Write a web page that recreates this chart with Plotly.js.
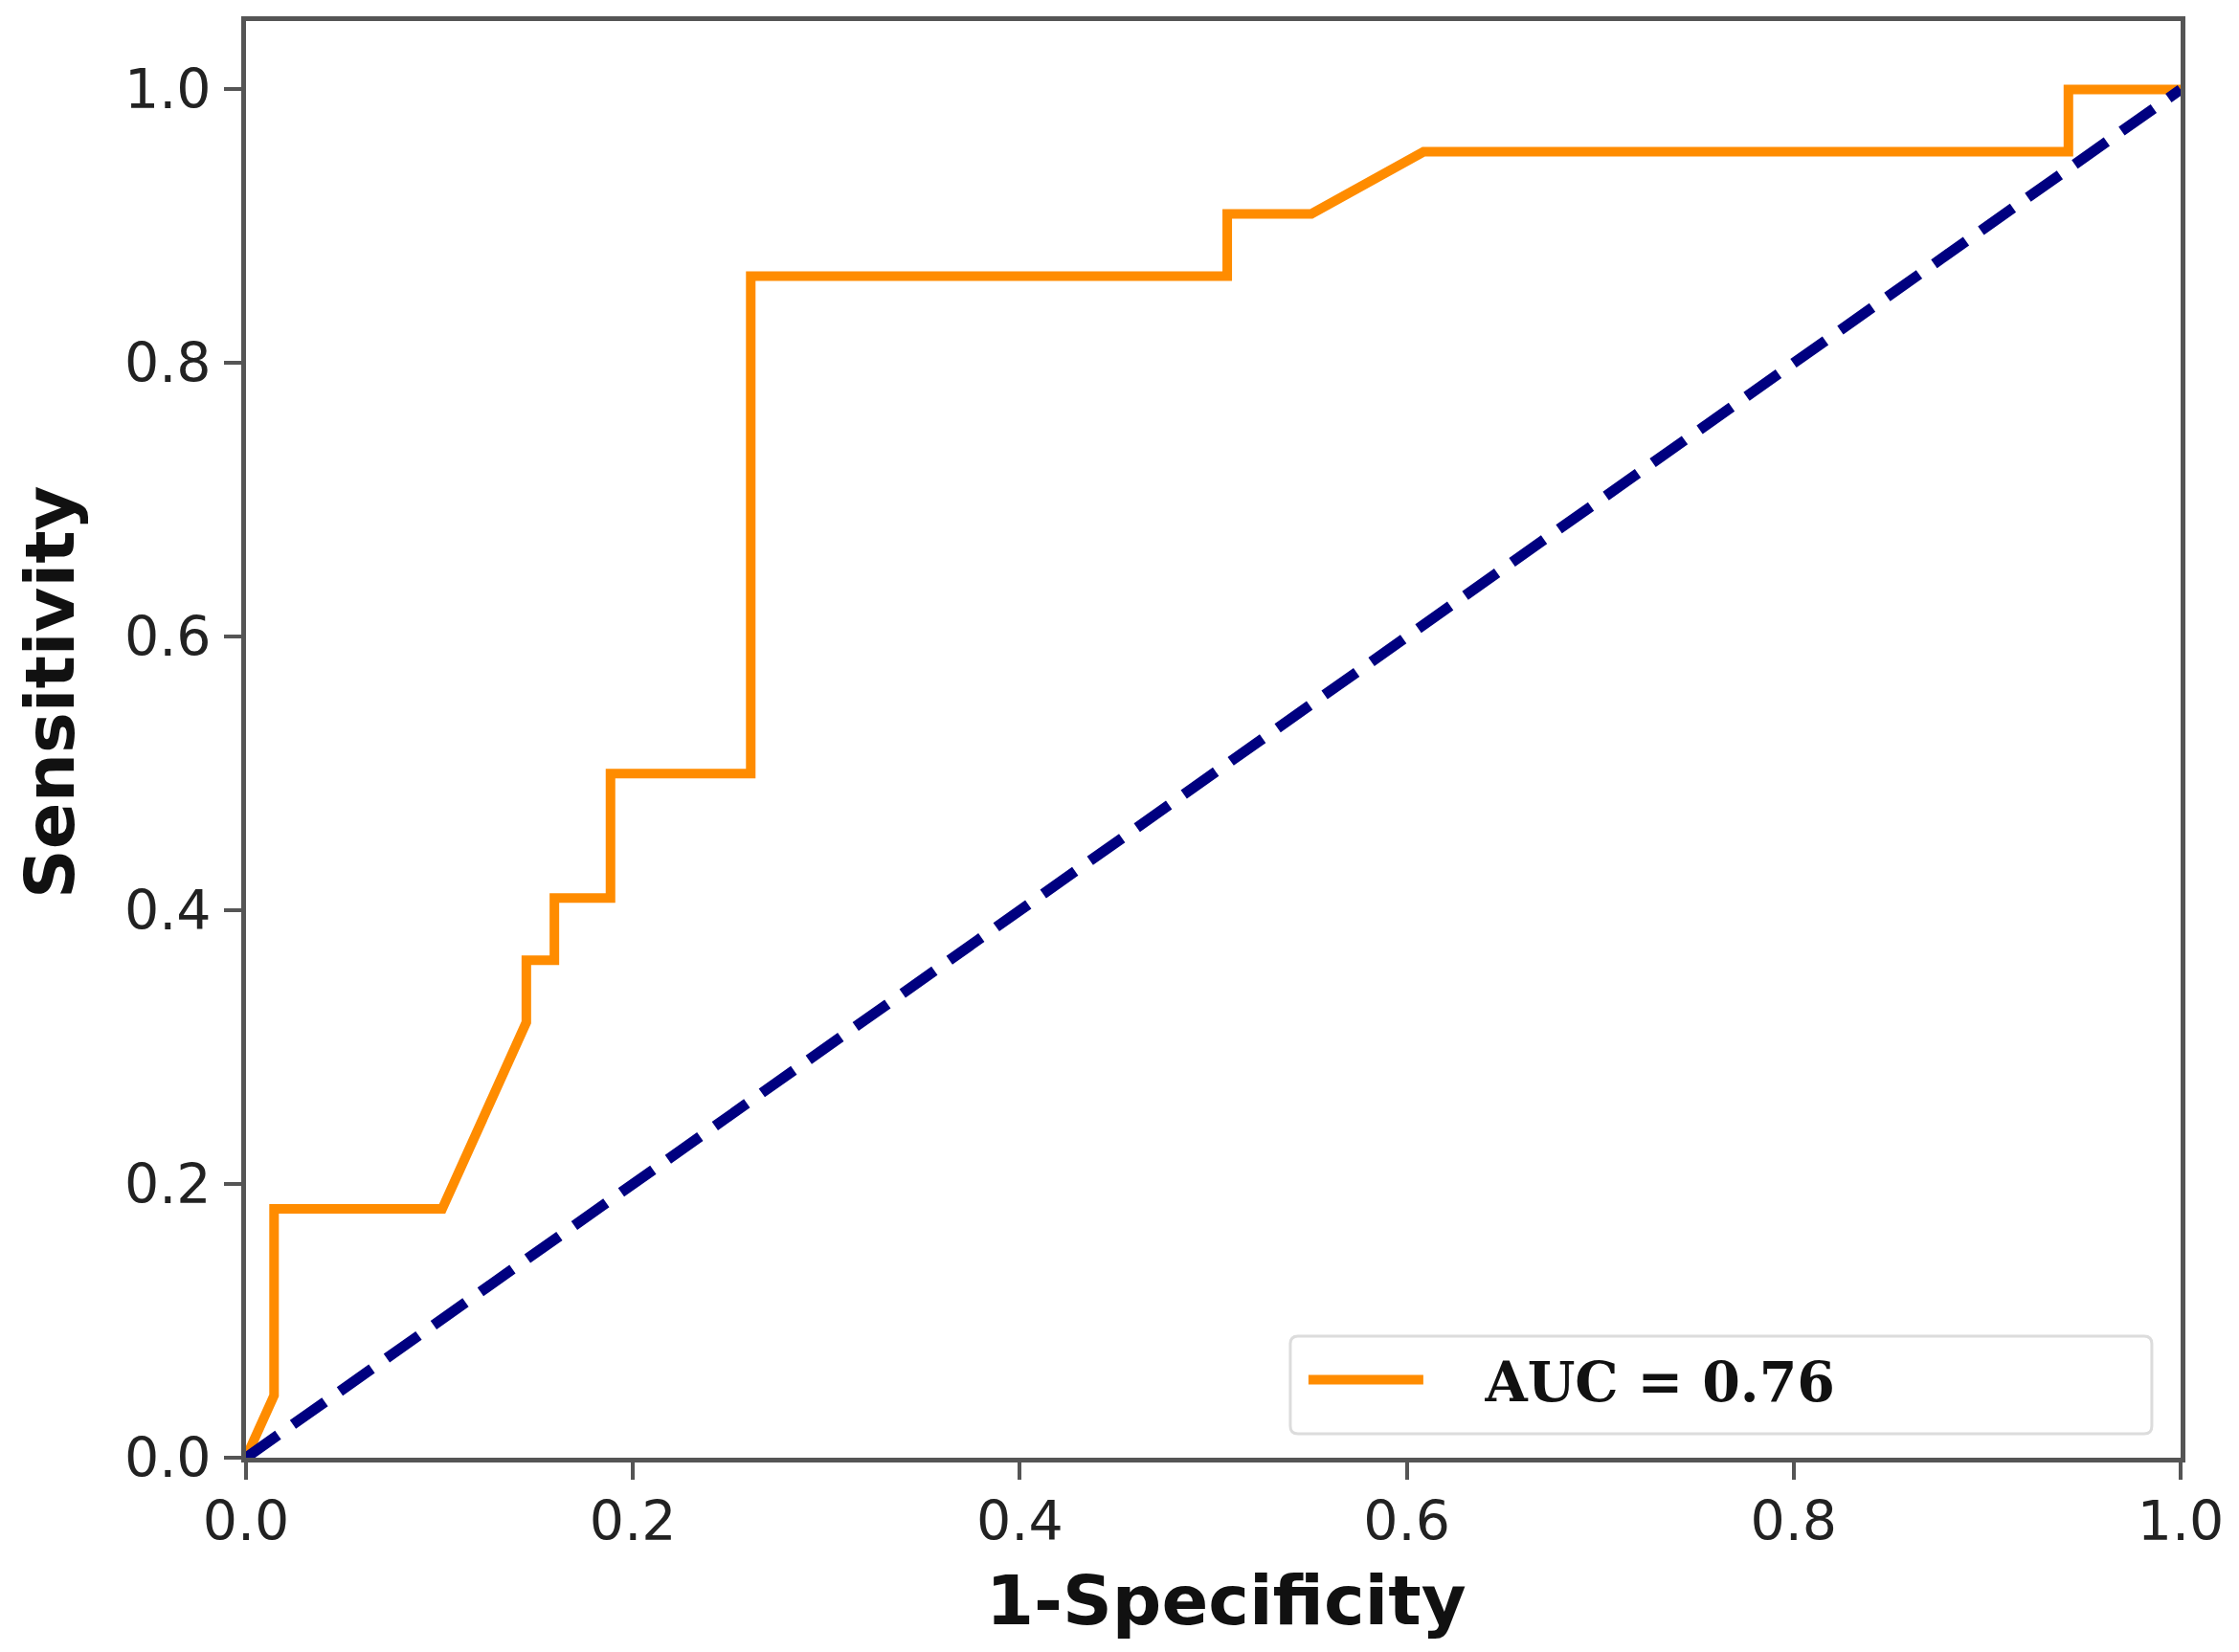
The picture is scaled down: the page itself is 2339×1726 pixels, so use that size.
<!DOCTYPE html>
<html>
<head>
<meta charset="utf-8">
<script src="https://cdn.plot.ly/plotly-3.0.1.min.js"></script>
<style>
  html, body { margin: 0; padding: 0; background: #fff; }
  #myDiv { width: 2339px; height: 1726px; }
</style>
</head>
<body>
<div id="myDiv"></div>
<script>
// ROC curve points
var fpr = [0, 0.0145, 0.0145, 0.1014, 0.1449, 0.1449, 0.1594, 0.1594, 0.1884, 0.1884,
           0.2609, 0.2609, 0.5072, 0.5072, 0.5507, 0.6087, 0.9420, 0.9420, 1.0];
var tpr = [0, 0.0455, 0.1818, 0.1818, 0.3182, 0.3636, 0.3636, 0.4091, 0.4091, 0.5,
           0.5, 0.8636, 0.8636, 0.9091, 0.9091, 0.9545, 0.9545, 1.0, 1.0];
var chanceX = [0, 1];
var chanceY = [0, 1];
var aucLabel = 'AUC = 0.76';
var tickVals = [0, 0.2, 0.4, 0.6, 0.8, 1.0];
var tickText = ['0.0', '0.2', '0.4', '0.6', '0.8', '1.0'];

var roc = {
    x: fpr,
    y: tpr,
    type: 'scatter',
    mode: 'lines',
    // a few non-breaking spaces push the label away from the line sample
    name: '\u00a0\u00a0\u00a0' + aucLabel,
    line: {color: '#ff8c00', width: 10}
};

var chance = {
    x: chanceX,
    y: chanceY,
    type: 'scatter',
    mode: 'lines',
    showlegend: false,
    line: {color: '#000080', width: 11, dash: '41px,19px'}
};

var axisStyle = {
    showline: true,
    mirror: true,
    linecolor: '#555',
    linewidth: 5,
    ticks: 'outside',
    ticklen: 18,
    tickwidth: 4,
    tickcolor: '#555',
    showgrid: false,
    zeroline: false,
    tickvals: tickVals,
    ticktext: tickText,
    tickfont: {family: 'DejaVu Sans', size: 57, color: '#222'}
};

var titleFont = {family: 'DejaVu Sans', size: 72, color: '#111', weight: 'bold'};

var layout = {
    width: 2339,
    height: 1726,
    margin: {l: 257, r: 61, t: 22, b: 203},
    paper_bgcolor: '#fff',
    plot_bgcolor: '#fff',
    xaxis: Object.assign({}, axisStyle, {range: [0, 1], ticklabelstandoff: -5}),
    yaxis: Object.assign({}, axisStyle, {range: [0, 1.05], ticklabelstandoff: 2}),
    annotations: [
        {text: '1-Specificity', xref: 'paper', yref: 'paper', x: 0.5067, y: -0.0993,
         xanchor: 'center', yanchor: 'middle', showarrow: false, font: titleFont},
        {text: 'Sensitivity', xref: 'paper', yref: 'paper', x: -0.1014, y: 0.533,
         xanchor: 'center', yanchor: 'middle', textangle: -90, showarrow: false, font: titleFont}
    ],
    // legend frame with rounded corners, like matplotlib's
    shapes: [{
        type: 'path',
        xref: 'paper', yref: 'paper',
        xsizemode: 'pixel', ysizemode: 'pixel',
        xanchor: 0.5398, yanchor: 0.0167,
        path: 'M 8,0 L 892,0 Q 900,0 900,8 L 900,94 Q 900,102 892,102 L 8,102 Q 0,102 0,94 L 0,8 Q 0,0 8,0 Z',
        fillcolor: '#fff',
        line: {color: '#dcdcdc', width: 3},
        layer: 'above'
    }],
    showlegend: true,
    legend: {
        x: 0.5467,
        y: 0.054,
        xanchor: 'left',
        yanchor: 'middle',
        itemwidth: 120,
        bgcolor: 'rgba(0,0,0,0)',
        borderwidth: 0,
        font: {family: 'DejaVu Serif', size: 57, color: '#111', weight: 'bold'}
    }
};

Plotly.newPlot('myDiv', [roc, chance], layout, {displayModeBar: false});
</script>
</body>
</html>
